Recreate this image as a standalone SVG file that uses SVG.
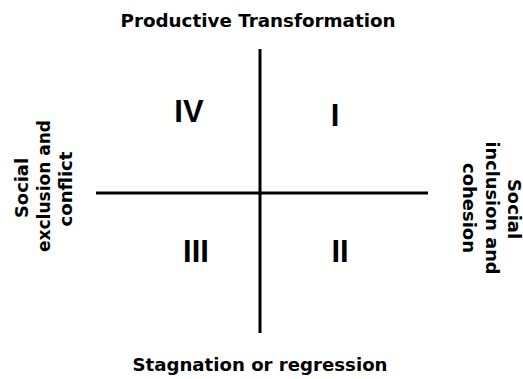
<svg xmlns="http://www.w3.org/2000/svg" width="523" height="379" viewBox="0 0 523 379">
<style>
.lbl{font-family:"DejaVu Sans",Verdana,sans-serif;font-weight:bold;font-size:17px;fill:#000;text-anchor:middle}
.num{font-family:"Liberation Sans",Arial,sans-serif;font-weight:bold;font-size:31px;fill:#000;text-anchor:middle}
.ax{stroke:#000;stroke-width:3;fill:none}
</style>
<rect width="523" height="379" fill="#fff"/>
<g id="connectors">
<line class="ax" x1="260" y1="49" x2="260" y2="333"/>
<line class="ax" x1="96" y1="193" x2="428" y2="193"/>
</g>
<g id="top"><text class="lbl" x="258" y="27" textLength="275" lengthAdjust="spacingAndGlyphs">Productive Transformation</text></g>
<g id="bottom"><text class="lbl" x="260" y="371" textLength="255" lengthAdjust="spacingAndGlyphs">Stagnation or regression</text></g>
<g id="left">
<text class="lbl" transform="translate(28,188) rotate(-90)" textLength="60" lengthAdjust="spacingAndGlyphs">Social</text>
<text class="lbl" transform="translate(50,186) rotate(-90)" textLength="132" lengthAdjust="spacingAndGlyphs">exclusion and</text>
<text class="lbl" transform="translate(72,189) rotate(-90)" textLength="75" lengthAdjust="spacingAndGlyphs">conflict</text>
</g>
<g id="right">
<text class="lbl" transform="translate(508,209) rotate(90)" textLength="60" lengthAdjust="spacingAndGlyphs">Social</text>
<text class="lbl" transform="translate(486,208) rotate(90)" textLength="133" lengthAdjust="spacingAndGlyphs">inclusion and</text>
<text class="lbl" transform="translate(463,208) rotate(90)" textLength="90" lengthAdjust="spacingAndGlyphs">cohesion</text>
</g>
<g id="q4"><text class="num" x="189" y="122">IV</text></g>
<g id="q1"><text class="num" x="335" y="126">I</text></g>
<g id="q3"><text class="num" x="196" y="262">III</text></g>
<g id="q2"><text class="num" x="340" y="262">II</text></g>
</svg>
